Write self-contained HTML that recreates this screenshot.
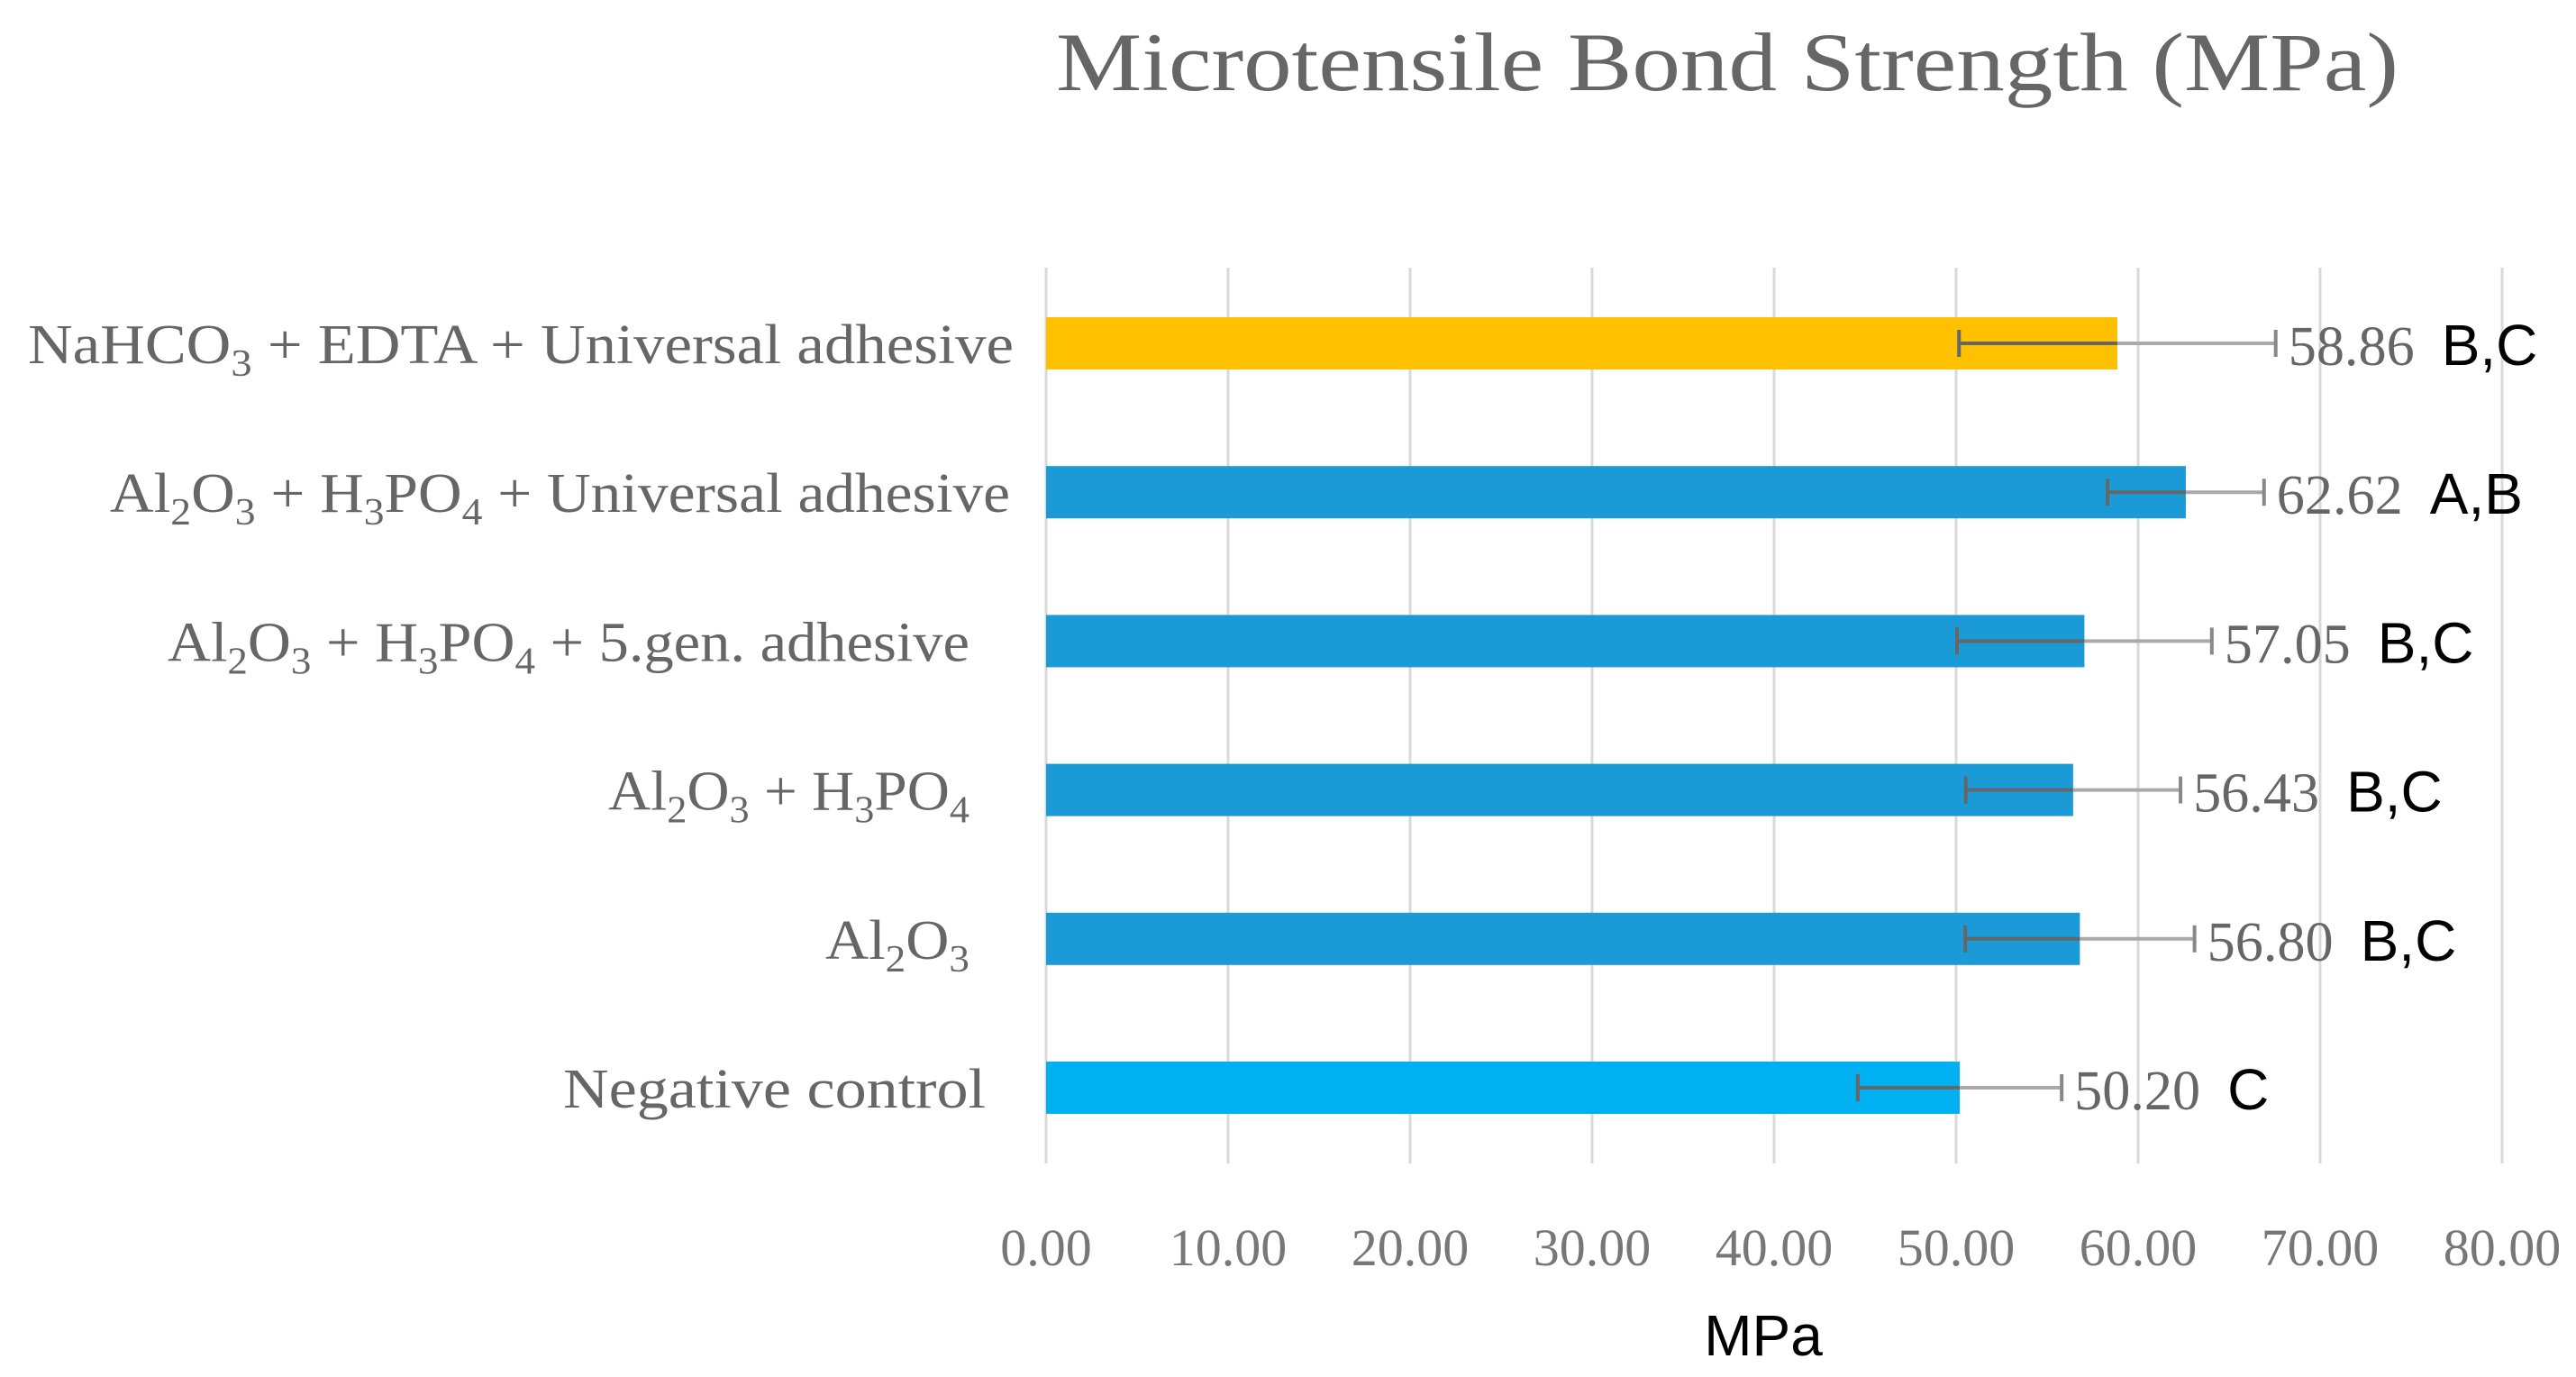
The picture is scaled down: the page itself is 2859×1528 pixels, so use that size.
<!DOCTYPE html>
<html><head><meta charset="utf-8"><style>
html,body{margin:0;padding:0;background:#fff;}
svg{display:block;}
</style></head><body>
<svg id="chart" width="2859" height="1528" viewBox="0 0 2859 1528" xmlns="http://www.w3.org/2000/svg">
<text x="1172" y="100" font-family="Liberation Serif, serif" font-size="92" fill="#666" textLength="1490" lengthAdjust="spacingAndGlyphs">Microtensile Bond Strength (MPa)</text>
<g id="grid"></g>
<g id="bars"></g>
<g id="ticks"></g>
<text x="1957" y="1504" text-anchor="middle" font-family="Liberation Sans, sans-serif" font-size="64" fill="#000">MPa</text>
</svg>
<script>
const categories = [
  [["NaHCO",""],["3","s"],[" + EDTA + Universal adhesive",""]],
  [["Al",""],["2","s"],["O",""],["3","s"],[" + H",""],["3","s"],["PO",""],["4","s"],[" + Universal adhesive",""]],
  [["Al",""],["2","s"],["O",""],["3","s"],[" + H",""],["3","s"],["PO",""],["4","s"],[" + 5.gen. adhesive",""]],
  [["Al",""],["2","s"],["O",""],["3","s"],[" + H",""],["3","s"],["PO",""],["4","s"]],
  [["Al",""],["2","s"],["O",""],["3","s"]],
  [["Negative control",""]]
];
const catNames = ["nahco3-edta-universal","al2o3-h3po4-universal","al2o3-h3po4-5gen","al2o3-h3po4","al2o3","negative-control"];
const values = [58.86, 62.62, 57.05, 56.43, 56.80, 50.20];
const errors = [8.7, 4.3, 7.0, 5.9, 6.3, 5.6];
const letters = ["B,C", "A,B", "B,C", "B,C", "B,C", "C"];
const valueLabels = ["58.86", "62.62", "57.05", "56.43", "56.80", "50.20"];
const colors = ["#FFC000", "#1A9AD6", "#1A9AD6", "#1A9AD6", "#1A9AD6", "#00B0F0"];
const tickValues = [0,10,20,30,40,50,60,70,80];
const tickLabels = ["0.00","10.00","20.00","30.00","40.00","50.00","60.00","70.00","80.00"];

const NS = "http://www.w3.org/2000/svg";
const X0 = 1161, X1 = 2777, XMAX = 80;
const x = v => X0 + (X1 - X0) * v / XMAX;
const Y0 = 381, STEP = 165.2;
const y = i => Y0 + STEP * i;
const BAR_H = 58;
const labelRight = [1125, 1121, 1076, 1076, 1076, 1094];
const labelWidth = [1094, 999, 890, 401, 160, 469];

function mk(tag, attrs, parent) {
  const e = document.createElementNS(NS, tag);
  for (const k in attrs) e.setAttribute(k, attrs[k]);
  parent.appendChild(e);
  return e;
}
const grid = document.getElementById('grid');
const bars = document.getElementById('bars');
const ticks = document.getElementById('ticks');

tickValues.forEach((t, i) => {
  const l = mk('line', {x1: x(t), x2: x(t), y1: 297, y2: 1291, stroke: '#d9d9d9', 'stroke-width': 3}, grid);
  
  
  const tx = mk('text', {x: x(t), y: 1404, 'text-anchor': 'middle', 'font-family': 'Liberation Serif, serif', 'font-size': 58, fill: '#777'}, ticks);
  tx.textContent = tickLabels[i];
  
  
});

values.forEach((v, i) => {
  const cy = y(i);
  const r = mk('rect', {x: x(0), y: cy - BAR_H/2, width: x(v) - x(0), height: BAR_H, fill: colors[i]}, bars);
  
  
  const lo = x(v - errors[i]), hi = x(v + errors[i]);
  const g = mk('g', {}, bars);
  
  
  mk('line', {x1: lo, x2: x(v), y1: cy, y2: cy, stroke: '#666', 'stroke-width': 4}, g);
  mk('line', {x1: x(v), x2: hi, y1: cy, y2: cy, stroke: '#aaa', 'stroke-width': 4}, g);
  mk('line', {x1: lo, x2: lo, y1: cy - 15, y2: cy + 15, stroke: '#666', 'stroke-width': 4}, g);
  mk('line', {x1: hi, x2: hi, y1: cy - 15, y2: cy + 15, stroke: '#888', 'stroke-width': 4}, g);
  const vl = mk('text', {x: hi + 14, y: cy + 24, 'font-family': 'Liberation Serif, serif', 'font-size': 62, fill: '#666', textLength: 140, lengthAdjust: 'spacingAndGlyphs'}, bars);
  vl.textContent = valueLabels[i];
  
  
  const lt = mk('text', {x: hi + 14 + 140 + 30, y: cy + 24, 'font-family': 'Liberation Sans, sans-serif', 'font-size': 64, fill: '#000'}, bars);
  lt.textContent = letters[i];
  
  
  const cl = mk('text', {x: labelRight[i], y: cy + 22, 'text-anchor': 'end', 'font-family': 'Liberation Serif, serif', 'font-size': 62, fill: '#666', textLength: labelWidth[i], lengthAdjust: 'spacingAndGlyphs'}, bars);
  
  
  categories[i].forEach(([txt, kind]) => {
    const ts = mk('tspan', kind === 's' ? {'font-size': 42, dy: 14} : {dy: 0}, cl);
    ts.textContent = txt;
    if (kind === 's') {
      // reset baseline for following text
      ts.setAttribute('data-sub', '1');
    }
  });
  // fix baselines: tspans after subscripts shift back
  let prevSub = false;
  cl.querySelectorAll('tspan').forEach(ts => {
    if (ts.getAttribute('data-sub')) { ts.setAttribute('dy', prevSub ? 0 : 14); prevSub = true; }
    else { ts.setAttribute('dy', prevSub ? -14 : 0); prevSub = false; }
  });
});
</script>
</body></html>
